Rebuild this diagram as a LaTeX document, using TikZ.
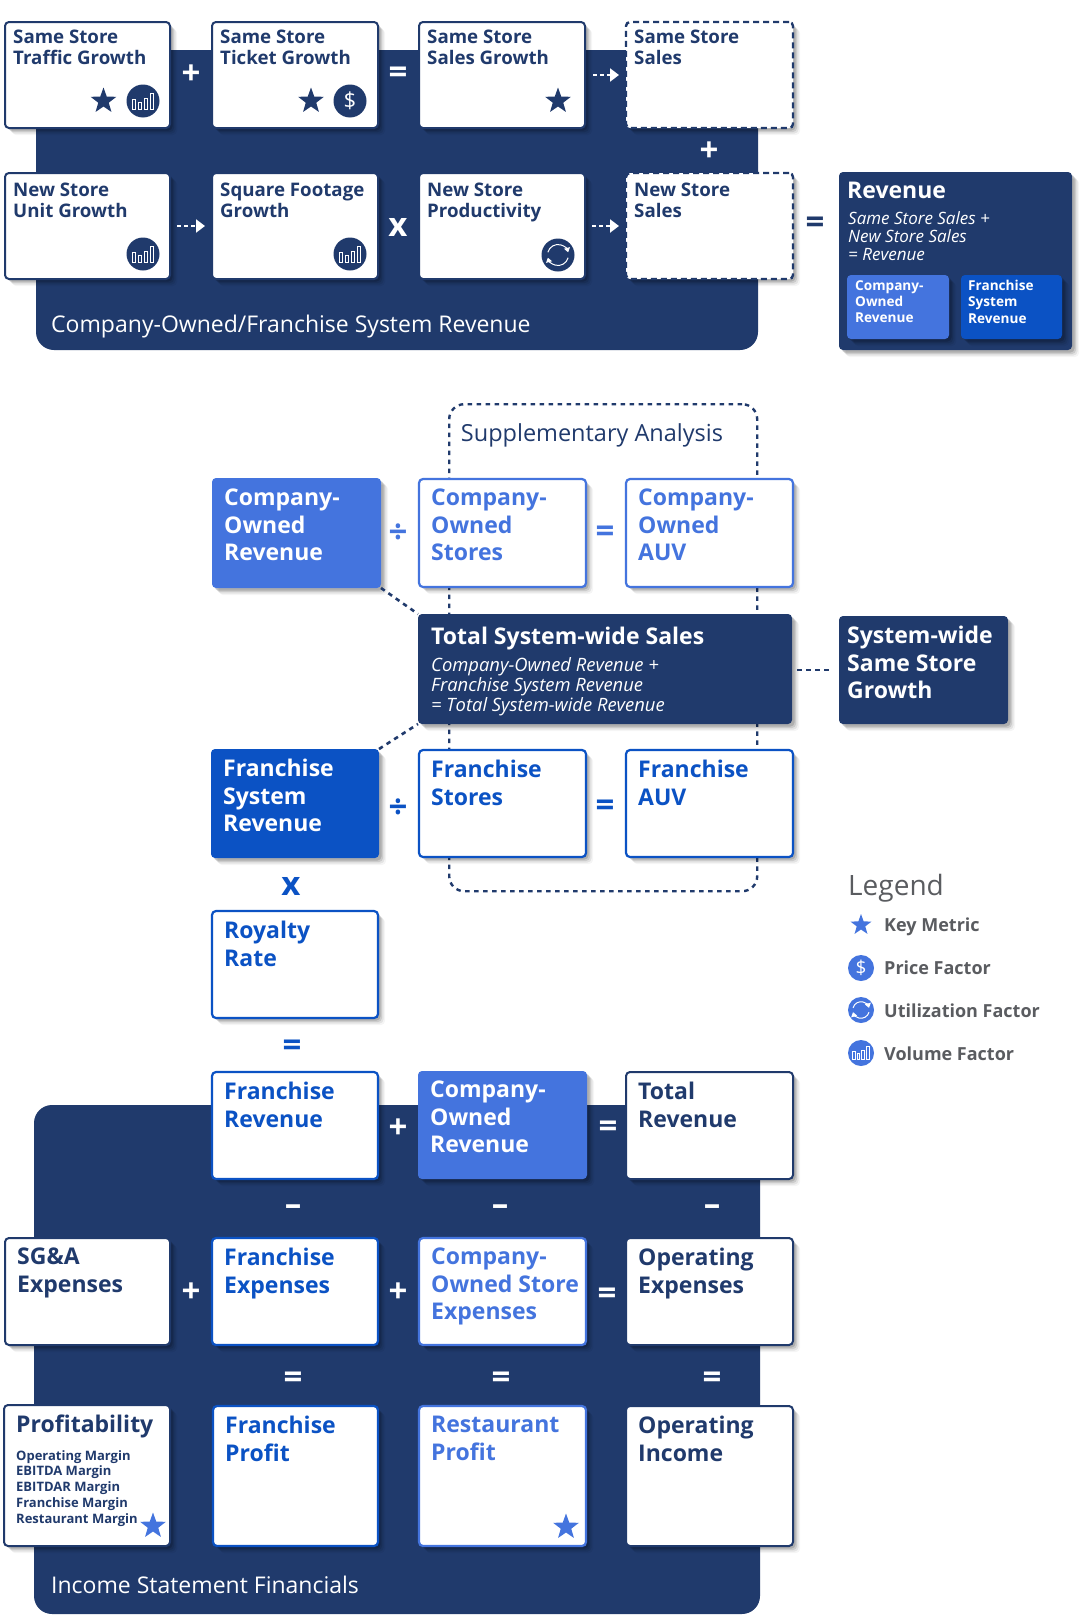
\documentclass[tikz,border=0pt]{standalone}
\usepackage{fontspec}
\setmainfont{Open Sans}
\usetikzlibrary{shapes.geometric,shadows,arrows.meta,calc}
\definecolor{navy}{HTML}{203A6C}
\definecolor{midblue}{HTML}{4474DE}
\definecolor{frblue}{HTML}{0B52C4}
\definecolor{leggray}{HTML}{5A5C60}
\tikzset{
  softshadow/.style={
    general shadow={shadow xshift=7pt,shadow yshift=-7pt,fill=black,opacity=.04},
    general shadow={shadow xshift=5.5pt,shadow yshift=-5.5pt,fill=black,opacity=.07},
    general shadow={shadow xshift=4pt,shadow yshift=-4pt,fill=black,opacity=.10},
    general shadow={shadow xshift=2.5pt,shadow yshift=-2.5pt,fill=black,opacity=.14}},
  base/.style={rectangle,rounded corners=4pt,inner sep=0pt,outer sep=0pt,anchor=north west,softshadow},
  navybox/.style={base,fill=white,draw=navy,line width=2pt},
  midbox/.style={base,fill=white,draw=midblue,line width=2.2pt},
  frbox/.style={base,fill=white,draw=frblue,line width=2.2pt},
  dashbox/.style={base,fill=white,draw=navy,line width=2.4pt,dash pattern=on 6pt off 4pt},
  navyfill/.style={base,fill=navy},
  midfill/.style={base,fill=midblue},
  frfill/.style={base,fill=frblue},
  band/.style={rectangle,rounded corners=18pt,fill=navy,inner sep=0pt,outer sep=0pt,anchor=north west},
  tsmall/.style={anchor=north west,inner sep=0pt,align=left,font=\fontsize{18.7}{21.5}\selectfont\bfseries,xshift=8pt,yshift=-7.5pt},
  tbig/.style={anchor=north west,inner sep=0pt,align=left,font=\fontsize{23}{27.5}\selectfont\bfseries,xshift=12pt,yshift=-10pt},
  op/.style={font=\fontsize{33}{33}\selectfont\bfseries,inner sep=0pt},
  dasharrow/.style={white,line width=2.8pt,dash pattern=on 3.5pt off 3.5pt,-{Triangle[length=9pt,width=13pt,fill=white]}},
  linkdash/.style={navy,line width=2.6pt,dash pattern=on 4.5pt off 4.5pt},
  starm/.style={star,star points=5,star point ratio=2.45,minimum size=27pt,inner sep=0pt,fill=#1},
  iconc/.style={circle,minimum size=2*#1 pt,inner sep=0pt},
  captxt/.style={anchor=base west,inner sep=0pt,text=white,font=\fontsize{23}{28}\selectfont},
  legtxt/.style={anchor=west,inner sep=0pt,text=leggray,font=\fontsize{18}{20}\selectfont\bfseries},
}
% box: style, name, x, y, w, h, text style, text
\newcommand{\bx}[8]{%
  \node[#1,minimum width=#5pt,minimum height=#6pt] (#2) at (#3,#4) {};
  \node[#7] (#2-t) at (#2.north west) {#8};}
\newcommand{\icbars}[5]{%
  \node[iconc=#4,fill=#5] (#1) at (#2,#3) {};
  \begin{scope}[shift={(#2,#3)},scale=#4/16.5,white,line width=.7pt]
    \draw (-11,-2) rectangle (-7.5,8);
    \draw (-5,1) rectangle (-1.5,8);
    \draw (1,-3) rectangle (4.5,8);
    \draw (7,-8) rectangle (10.5,8);
  \end{scope}}
\newcommand{\icdollar}[6]{%
  \node[iconc=#4,fill=#5,text=white,font=\fontsize{#6}{20}\selectfont] (#1) at (#2,#3) {\$};}
\newcommand{\iccycle}[5]{%
  \node[iconc=#4,fill=#5] (#1) at (#2,#3) {};
  \begin{scope}[shift={(#2,#3)},scale=#4/16.5,white,line width=1pt]
    \draw[-{Triangle[length=4.5pt,width=6pt]}] (195:10.5) arc[start angle=195,end angle=345,radius=10.5];
    \draw[-{Triangle[length=4.5pt,width=6pt]}] (15:10.5) arc[start angle=15,end angle=165,radius=10.5];
  \end{scope}}
\begin{document}
\begin{tikzpicture}[x=1pt,y=-1pt]
\useasboundingbox (0,0) rectangle (1080,1622);
\fill[white] (0,0) rectangle (1080,1622);

% ---- bands
\node[band,minimum width=722pt,minimum height=300pt] (bandA) at (36,50) {};
\node[band,minimum width=726pt,minimum height=509pt] (bandB) at (34,1105) {};
\node[captxt] (capA) at (51,332) {Company-Owned/Franchise System Revenue};
\node[captxt] (capB) at (51,1593) {Income Statement Financials};

% ---- top rows
\bx{navybox}{sst}{5}{22}{165}{106}{tsmall,text=navy}{Same Store\\Traffic Growth}
\bx{navybox}{stk}{212}{22}{166}{106}{tsmall,text=navy}{Same Store\\Ticket Growth}
\bx{navybox}{ssg}{419}{22}{166}{106}{tsmall,text=navy}{Same Store\\Sales Growth}
\bx{dashbox}{sss}{626}{22}{167}{106}{tsmall,text=navy}{Same Store\\Sales}
\bx{navybox}{nug}{5}{173}{165}{106}{tsmall,text=navy,yshift=-2pt}{New Store\\Unit Growth}
\bx{navybox}{sfg}{212}{173}{166}{106}{tsmall,text=navy,yshift=-2pt}{Square Footage\\Growth}
\bx{navybox}{nsp}{419}{173}{166}{106}{tsmall,text=navy,yshift=-2pt}{New Store\\Productivity}
\bx{dashbox}{nss}{626}{173}{167}{106}{tsmall,text=navy,yshift=-2pt}{New Store\\Sales}

\node[starm=navy] (st1) at (103.5,101) {};
\icbars{ic1}{143}{101}{16.5}{navy}
\node[starm=navy] (st2) at (311,101) {};
\icdollar{ic2}{350}{101}{16.5}{navy}{22}
\node[starm=navy] (st3) at (558,101) {};
\icbars{ic3}{143}{254}{16.5}{navy}
\icbars{ic4}{350}{254}{16.5}{navy}
\iccycle{ic5}{558}{255}{16.5}{navy}

\node[op,text=white] (o1) at (191,75) {+};
\node[op,text=white] (o2) at (398,75) {=};
\node[op,text=white] (o3) at (709,152) {+};
\node[op,text=white] (o4) at (398,227) {x};
\node[op,text=navy] (o5) at (815,225) {=};
\draw[dasharrow,shorten <=8pt,shorten >=7pt] (ssg.east) -- (sss.west);
\draw[dasharrow,shorten <=7pt,shorten >=7pt] (nug.east) -- (sfg.west);
\draw[dasharrow,shorten <=7pt,shorten >=7pt] (nsp.east) -- (nss.west);

% ---- revenue panel
\node[navyfill,minimum width=233pt,minimum height=178pt] (rev) at (839,172) {};
\node[anchor=base west,inner sep=0pt,text=white,font=\fontsize{23}{28}\selectfont\bfseries] (rev-t) at (847,198) {Revenue};
\node[anchor=north west,inner sep=0pt,align=left,text=white,font=\fontsize{17}{18}\selectfont\itshape] (rev-s) at (848,211) {Same Store Sales +\\New Store Sales\\= Revenue};
\node[midfill,minimum width=102pt,minimum height=64pt] (rco) at (847,275) {};
\node[frfill,minimum width=101pt,minimum height=64pt] (rfr) at (961,275) {};
\node[anchor=north west,inner sep=0pt,align=left,text=white,font=\fontsize{13.6}{16.4}\selectfont\bfseries] (rco-t) at (855,280) {Company-\\Owned\\Revenue};
\node[anchor=north west,inner sep=0pt,align=left,text=white,font=\fontsize{13.6}{16.4}\selectfont\bfseries] (rfr-t) at (968,280) {Franchise\\System\\Revenue};

% ---- supplementary analysis
\node[rectangle,rounded corners=15pt,draw=navy,line width=2.4pt,dash pattern=on 4.5pt off 4.5pt,minimum width=308pt,minimum height=487pt,anchor=north west,inner sep=0pt] (supp) at (448,403) {};
\node[anchor=center,inner sep=3pt,text=navy,fill=white,font=\fontsize{23.5}{28}\selectfont] (supp-t) at (592,435) {Supplementary Analysis};

\bx{midfill}{cor}{212}{478}{169}{110}{tbig,text=white,yshift=-1pt}{Company-\\Owned\\Revenue}
\bx{midbox}{cos}{419}{479}{167}{108}{tbig,text=midblue}{Company-\\Owned\\Stores}
\bx{midbox}{coa}{626}{479}{167}{108}{tbig,text=midblue}{Company-\\Owned\\AUV}
\node[navyfill,minimum width=374pt,minimum height=110pt] (tot) at (418,614) {};
\node[anchor=base west,inner sep=0pt,text=white,font=\fontsize{23}{28}\selectfont\bfseries] (tot-t) at (431,644) {Total System-wide Sales};
\node[anchor=north west,inner sep=0pt,align=left,text=white,font=\fontsize{18.4}{20}\selectfont\itshape] (tot-s) at (431,657) {Company-Owned Revenue +\\Franchise System Revenue\\= Total System-wide Revenue};
\bx{navyfill}{sys}{839}{616}{169}{108}{tbig,text=white,xshift=-4pt}{System-wide\\Same Store\\Growth}
\bx{frfill}{fsr}{211}{749}{168}{109}{tbig,text=white}{Franchise\\System\\Revenue}
\bx{frbox}{fst}{419}{750}{167}{107}{tbig,text=frblue}{Franchise\\Stores}
\bx{frbox}{fau}{626}{750}{167}{107}{tbig,text=frblue}{Franchise\\AUV}
\bx{frbox}{roy}{212}{911}{166}{107}{tbig,text=frblue}{Royalty\\Rate}

\draw[linkdash] (cor.south east) -- (tot.north west);
\draw[linkdash] (fsr.north east) -- (tot.south west);
\draw[linkdash,shorten <=5pt,shorten >=6pt] (tot.east |- sys.west) -- (sys.west);

\node[op,text=midblue] (o6) at (398,534) {÷};
\node[op,text=midblue] (o7) at (605,534) {=};
\node[op,text=frblue] (o8) at (398,809) {÷};
\node[op,text=frblue] (o9) at (605,808) {=};
\node[op,text=frblue] (o10) at (291,886) {x};
\node[op,text=frblue] (o11) at (292,1048) {=};

% ---- legend
\node[anchor=base west,inner sep=0pt,text=leggray,font=\fontsize{28}{30}\selectfont] (leg) at (848,895) {Legend};
\node[starm=midblue,minimum size=22pt] (l1) at (861,925) {};
\icdollar{l2}{861}{968}{13}{midblue}{19}
\iccycle{l3}{861}{1010}{13}{midblue}
\icbars{l4}{861}{1053}{13}{midblue}
\node[legtxt] (lt1) at (884,927) {Key Metric};
\node[legtxt] (lt2) at (884,968) {Price Factor};
\node[legtxt] (lt3) at (884,1011) {Utilization Factor};
\node[legtxt] (lt4) at (884,1054) {Volume Factor};

% ---- income statement
\bx{frbox}{fre}{212}{1072}{166}{107}{tbig,text=frblue}{Franchise\\Revenue}
\bx{midfill}{cre}{418}{1071}{169}{108}{tbig,text=white}{Company-\\Owned\\Revenue}
\bx{navybox}{tre}{626}{1072}{167}{107}{tbig,text=navy}{Total\\Revenue}
\bx{navybox}{sga}{5}{1238}{165}{107}{tbig,text=navy}{SG\&A\\Expenses}
\bx{frbox}{fex}{212}{1238}{166}{107}{tbig,text=frblue}{Franchise\\Expenses}
\bx{midbox}{cex}{419}{1238}{167}{107}{tbig,text=midblue}{Company-\\Owned Store\\Expenses}
\bx{navybox}{oex}{626}{1238}{167}{107}{tbig,text=navy}{Operating\\Expenses}
\bx{navybox}{prf}{4}{1405}{166}{141}{tbig,text=navy}{Profitability}
\node[anchor=north west,inner sep=0pt,align=left,text=navy,font=\fontsize{13}{15.8}\selectfont\bfseries] (prf-s) at (16,1450) {Operating Margin\\EBITDA Margin\\EBITDAR Margin\\Franchise Margin\\Restaurant Margin};
\bx{frbox}{fpr}{213}{1406}{165}{140}{tbig,text=frblue}{Franchise\\Profit}
\bx{midbox}{rpr}{419}{1406}{167}{140}{tbig,text=midblue}{Restaurant\\Profit}
\bx{navybox}{oin}{626}{1406}{167}{140}{tbig,text=navy}{Operating\\Income}
\node[starm=midblue] (st4) at (153,1526) {};
\node[starm=midblue] (st5) at (566,1527) {};

\node[op,text=white] (p1) at (398,1129) {+};
\node[op,text=white] (p2) at (608,1129) {=};
\node[op,text=white] (p3) at (293,1210) {–};
\node[op,text=white] (p4) at (500,1210) {–};
\node[op,text=white] (p5) at (712,1210) {–};
\node[op,text=white] (p6) at (191,1293) {+};
\node[op,text=white] (p7) at (398,1293) {+};
\node[op,text=white] (p8) at (607,1296) {=};
\node[op,text=white] (p9) at (293,1380) {=};
\node[op,text=white] (p10) at (501,1380) {=};
\node[op,text=white] (p11) at (712,1380) {=};
\end{tikzpicture}
\end{document}
